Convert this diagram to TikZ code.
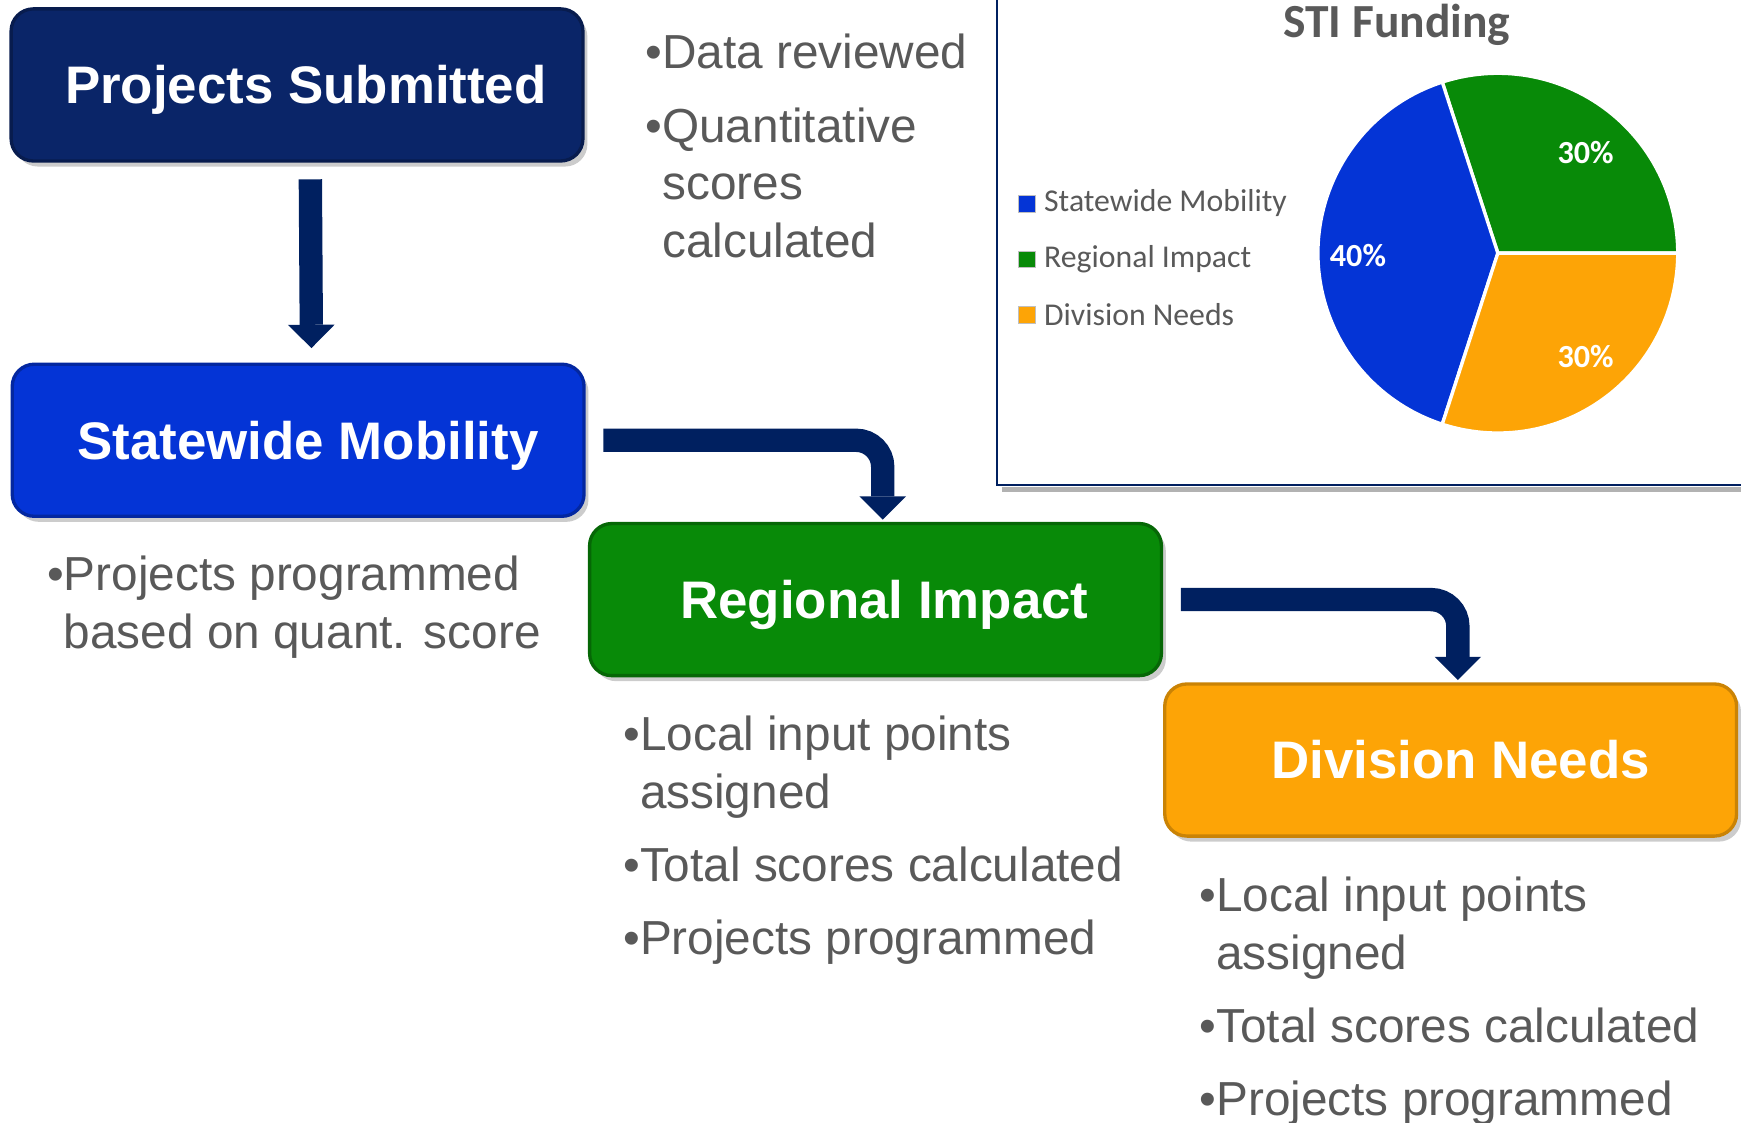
\documentclass[tikz,border=0pt]{standalone}
\usepackage{fontspec}
\setmainfont{Liberation Sans}
\newfontfamily\chartfont{Carlito}
\usepackage{tikz}
\usetikzlibrary{arrows.meta,shadows}

\definecolor{navy}{RGB}{0,32,96}
\definecolor{psblue}{RGB}{10,37,104}
\definecolor{smblue}{RGB}{4,52,214}
\definecolor{rigreen}{RGB}{8,138,8}
\definecolor{dnorange}{RGB}{253,164,6}
\definecolor{txtgray}{RGB}{89,89,89}

\begin{document}
\begin{tikzpicture}
  [x=0.5pt,y=-0.5pt,
   box/.style={rectangle,rounded corners=10pt,minimum width=257.5pt,minimum height=68.5pt,
     inner sep=0pt,text height=17pt,text depth=0pt,text=white,line width=1.5pt,
     font=\fontsize{23.8}{28}\selectfont\bfseries,
     drop shadow={shadow xshift=2pt,shadow yshift=-2.5pt,opacity=0.4}},
   notes/.style={anchor=base west,align=left,inner sep=0pt,text=txtgray,
     font=\fontsize{21.5}{26}\selectfont},
   flow/.style={draw=navy,line width=10.5pt,rounded corners=12pt,
     -{Triangle[width=21pt,length=10.5pt,line width=0pt]}},
   key/.style={rectangle,minimum size=7.5pt,inner sep=0pt,draw=black!25,line width=0.3pt},
   keytext/.style={anchor=west,inner sep=0pt,text=txtgray,font=\chartfont\fontsize{14.3}{16}\selectfont},
   pct/.style={text=white,font=\chartfont\bfseries\fontsize{14.5}{16}\selectfont}]

  \useasboundingbox (0,0) rectangle (1568,1011);

  \node[box,fill=psblue,draw=psblue!75!black] (n1) at (267.5,76.5) {\hspace*{8pt}Projects Submitted};
  \node[box,fill=smblue,draw=smblue!75!black] (n2) at (268.5,396.5) {\hspace*{9pt}Statewide Mobility};
  \node[box,fill=rigreen,draw=rigreen!75!black] (n3) at (788.5,540) {\hspace*{8pt}Regional Impact};
  \node[box,fill=dnorange,draw=dnorange!80!black] (n4) at (1306.5,684.5) {\hspace*{9pt}Division Needs};

  \draw[flow] ([xshift=6pt,yshift=-7.5pt]n1.south) -- ([xshift=6pt,yshift=6.5pt]n2.north);
  \foreach \from/\to in {n2/n3,n3/n4}
    \draw[flow] ([xshift=8pt]\from.east) -| ([xshift=3.25pt,yshift=1pt]\to.north);

  \node[notes] (l1) at (581,232) {•Data reviewed\\[7pt]•Quantitative\\\hphantom{•}scores\\\hphantom{•}calculated};
  \node[notes] (l2) at (42,584) {•Projects programmed\\\hphantom{•}based on quant. score};
  \node[notes] (l3) at (561,860) {•Local input points\\\hphantom{•}assigned\\[7pt]•Total scores calculated\\[7pt]•Projects programmed};
  \node[notes] (l4) at (1080,1005) {•Local input points\\\hphantom{•}assigned\\[7pt]•Total scores calculated\\[7pt]•Projects programmed};

  \draw[black!30,line width=2pt] (902,441) -- (1570,441);
  \draw[navy,line width=1pt] (898,-2) -- (898,437) -- (1570,437);

  \node[text=txtgray,font=\chartfont\bfseries\fontsize{21.4}{24}\selectfont] (t1) at (1258,22) {STI Funding};

  \coordinate (pc) at (1349,228);
  \filldraw[fill=rigreen,draw=white,line width=1.5pt] (pc) -- ++(0:81pt) arc[start angle=0,end angle=108,radius=81pt] -- cycle;
  \filldraw[fill=smblue,draw=white,line width=1.5pt] (pc) -- ++(108:81pt) arc[start angle=108,end angle=252,radius=81pt] -- cycle;
  \filldraw[fill=dnorange,draw=white,line width=1.5pt] (pc) -- ++(252:81pt) arc[start angle=252,end angle=360,radius=81pt] -- cycle;

  \node[pct] (p1) at (1428,137) {30\%};
  \node[pct] (p2) at (1223,230) {40\%};
  \node[pct] (p3) at (1428,321) {30\%};

  \node[key,fill=smblue] (k1) at (924.5,183.5) {};
  \node[key,fill=rigreen] (k2) at (924.5,233.5) {};
  \node[key,fill=dnorange] (k3) at (924.5,283.5) {};
  \node[keytext] (kt1) at (940,183) {Statewide Mobility};
  \node[keytext] (kt2) at (940,233) {Regional Impact};
  \node[keytext] (kt3) at (940,283) {Division Needs};
\end{tikzpicture}
\end{document}
